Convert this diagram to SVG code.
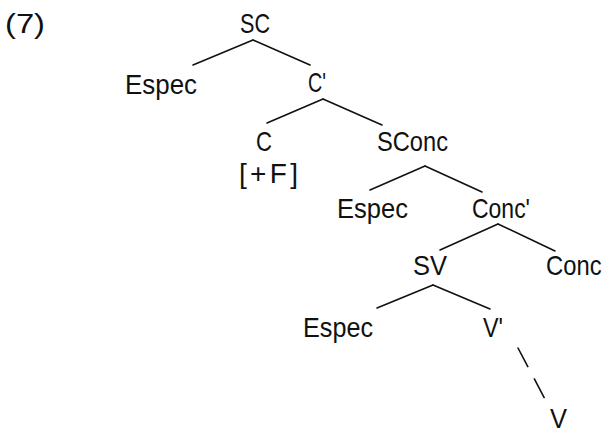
<svg xmlns="http://www.w3.org/2000/svg" width="605" height="434" viewBox="0 0 605 434">
  <style>
    text { font-family: "Liberation Sans", Arial, sans-serif; font-size: 28px; fill: #111; }
    .edge { stroke: #111; stroke-width: 1.6; fill: none; stroke-linecap: round; }
    .dash { stroke-dasharray: 21 14; }
  </style>
  <rect width="605" height="434" fill="#fff"/>
  <text id="label-7" x="5" y="33" textLength="40" lengthAdjust="spacingAndGlyphs">(7)</text>

  <g id="connectors">
    <line class="edge" x1="253" y1="40" x2="193" y2="65"/>
    <line class="edge" x1="253" y1="40" x2="310" y2="65"/>
    <line class="edge" x1="323" y1="99" x2="267" y2="123"/>
    <line class="edge" x1="323" y1="99" x2="382" y2="125"/>
    <line class="edge" x1="425" y1="166" x2="370" y2="190"/>
    <line class="edge" x1="425" y1="166" x2="482" y2="192"/>
    <line class="edge" x1="498" y1="224" x2="440" y2="250"/>
    <line class="edge" x1="498" y1="224" x2="555" y2="251"/>
    <line class="edge" x1="433" y1="285" x2="377" y2="308"/>
    <line class="edge" x1="433" y1="285" x2="490" y2="309"/>
    <line class="edge dash" x1="518" y1="348" x2="546" y2="401"/>
  </g>

  <g id="node-SC"><text x="240" y="33" textLength="30" lengthAdjust="spacingAndGlyphs">SC</text></g>
  <g id="node-Espec1"><text x="125" y="94" textLength="72" lengthAdjust="spacingAndGlyphs">Espec</text></g>
  <g id="node-Cbar"><text x="308" y="92" textLength="18" lengthAdjust="spacingAndGlyphs">C'</text></g>
  <g id="node-C">
    <text x="256" y="151" textLength="16" lengthAdjust="spacingAndGlyphs">C</text>
    <text x="239" y="183" textLength="59" lengthAdjust="spacing">[+F]</text>
  </g>
  <g id="node-SConc"><text x="377" y="151" textLength="71" lengthAdjust="spacingAndGlyphs">SConc</text></g>
  <g id="node-Espec2"><text x="337" y="218" textLength="71" lengthAdjust="spacingAndGlyphs">Espec</text></g>
  <g id="node-ConcBar"><text x="472" y="218" textLength="58" lengthAdjust="spacingAndGlyphs">Conc'</text></g>
  <g id="node-SV"><text x="413" y="275" textLength="34" lengthAdjust="spacingAndGlyphs">SV</text></g>
  <!-- narrowed with a transform so its box stays inside the right edge -->
  <g id="node-Conc"><text transform="translate(546,275) scale(0.85,1)" x="0" y="0">Conc</text></g>
  <g id="node-Espec3"><text x="303" y="337" textLength="70" lengthAdjust="spacingAndGlyphs">Espec</text></g>
  <g id="node-Vbar"><text x="483" y="337" textLength="20" lengthAdjust="spacingAndGlyphs">V'</text></g>
  <g id="node-V"><text x="550" y="428" textLength="17" lengthAdjust="spacingAndGlyphs">V</text></g>
</svg>
